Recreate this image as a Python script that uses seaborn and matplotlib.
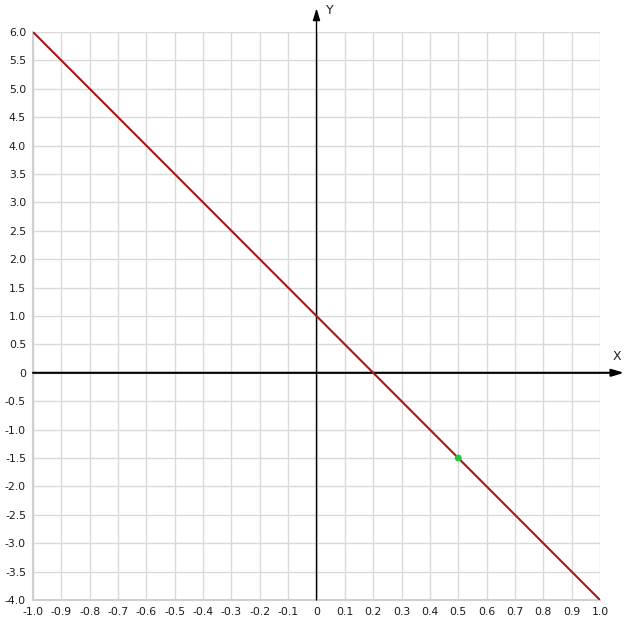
import numpy as np
import pandas as pd
import matplotlib
matplotlib.use('Agg')
import matplotlib.pyplot as plt
import seaborn as sns

sns.set_theme(style='white')
plt.rcParams['font.family'] = ['DejaVu Sans']

# line y = 1 - 5x, drawn between its two end points
line_x = [-1.0, 1.0]
line_y = [6.0, -4.0]
point_x = [0.5]
point_y = [-1.5]

x_ticks = [round(v, 1) for v in np.arange(-1.0, 1.01, 0.1)]
y_ticks = [round(v, 1) for v in np.arange(-4.0, 6.01, 0.5)]
x_labels = ['0' if v == 0 else f'{v:.1f}' for v in x_ticks]
y_labels = ['0' if v == 0 else f'{v:.1f}' for v in y_ticks]

fig = plt.figure(figsize=(6.32, 6.29), dpi=100)
ax = fig.add_axes([33 / 632, 29 / 629, 567 / 632, 568 / 629])

line_df = pd.DataFrame({'x': line_x, 'y': line_y})
pt_df = pd.DataFrame({'x': point_x, 'y': point_y})
sns.lineplot(data=line_df, x='x', y='y', color='#a81616', linewidth=1.5, ax=ax, zorder=4)
sns.scatterplot(data=pt_df, x='x', y='y', color='#22c840', s=25, edgecolor='none', ax=ax, zorder=5)

ax.set_xlim(-1.0, 1.0)
ax.set_ylim(-4.0, 6.0)
ax.set_xticks(x_ticks)
ax.set_xticklabels(x_labels)
ax.set_yticks(y_ticks)
ax.set_yticklabels(y_labels)
ax.tick_params(axis='both', length=0, labelsize=7.8, colors='#1a1a1a', pad=5)
ax.grid(True, color='#d9d9d9', linewidth=1.0)
ax.set_axisbelow(True)
ax.set_xlabel('')
ax.set_ylabel('')
for side in ['top', 'right']:
    ax.spines[side].set_visible(False)
for side in ['left', 'bottom']:
    ax.spines[side].set_color('#d0d0d0')
    ax.spines[side].set_linewidth(1.5)

# coordinate axes with arrows
ax.annotate('', xy=(1.085, 0), xytext=(-1.0, 0), annotation_clip=False,
            arrowprops=dict(arrowstyle='-|>,head_length=0.6,head_width=0.18', color='black', lw=1.5,
                            shrinkA=0, shrinkB=0), zorder=3)
ax.annotate('', xy=(0, 6.42), xytext=(0, -4.0), annotation_clip=False,
            arrowprops=dict(arrowstyle='-|>,head_length=0.6,head_width=0.18', color='black', lw=1.0,
                            shrinkA=0, shrinkB=0), zorder=3)
ax.text(1.06, 0.18, 'X', fontsize=9, color='#222222', ha='center', va='bottom', clip_on=False)
ax.text(0.048, 6.38, 'Y', fontsize=9, color='#222222', ha='center', va='center', clip_on=False)

plt.savefig('out.png', dpi=100)
